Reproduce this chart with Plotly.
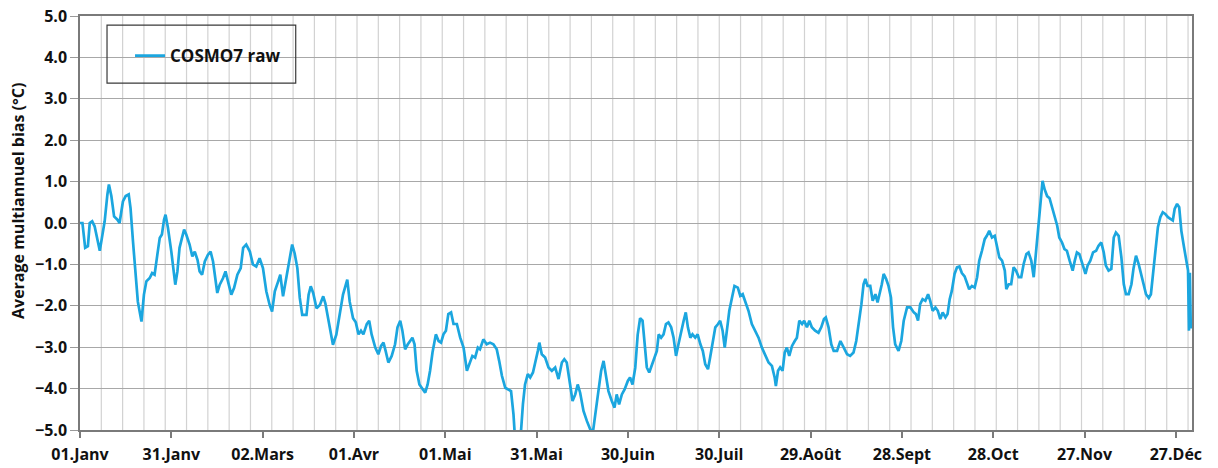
import plotly.graph_objects as go

# Day of year (0 = 01.Janv) and multiannual mean bias of the raw COSMO7 forecast (°C)
day = [
    0, 0.8, 1.7, 2.6, 3.2, 4.0, 4.8, 5.7, 6.5, 7.2, 8.1, 9.0, 9.5, 10.3, 11.2, 12.3, 13.0,
    14.1, 15.0, 16.0, 16.6, 17.4, 18.2, 19.0, 20.2, 21.0, 21.8, 22.9, 23.7, 24.5, 25.4,
    26.2, 26.9, 27.6, 28.1, 28.9, 30.0, 30.8, 31.3, 32.0, 32.7, 33.5, 34.2, 34.9, 36.0,
    36.9, 37.7, 38.6, 39.3, 40.1, 41.0, 42.0, 42.9, 43.7, 44.5, 45.1, 45.9, 47.0, 47.8,
    48.6, 49.7, 50.6, 51.7, 52.8, 53.6, 54.6, 55.8, 56.8, 57.9, 59.0, 60.1, 61.2, 62.3,
    63.1, 64.0, 65.1, 65.8, 66.7, 67.5, 68.6, 69.7, 70.5, 71.4, 72.2, 73.0, 74.4, 75.1,
    75.8, 76.6, 77.7, 78.8, 79.9, 80.6, 81.7, 83.1, 84.2, 85.3, 86.4, 87.8, 88.6, 89.7,
    90.6, 91.5, 92.3, 93.1, 94.2, 95.0, 95.8, 97.0, 98.0, 98.9, 99.7, 100.4, 101.3, 102.4,
    103.5, 104.3, 105.2, 105.9, 106.8, 107.7, 108.4, 109.2, 109.9, 110.6, 111.5, 112.5,
    113.4, 114.2, 115.0, 115.8, 116.9, 117.8, 118.6, 119.4, 120.2, 121.0, 121.9, 122.7,
    123.8, 124.9, 126.0, 127.1, 128.2, 128.9, 129.8, 130.7, 131.4, 132.5, 133.6, 134.7,
    135.8, 136.9, 137.7, 138.6, 139.7, 140.8, 141.6, 142.4, 142.9, 144.0, 144.9, 145.5,
    146.2, 147.1, 147.9, 148.8, 149.5, 150.4, 150.9, 151.7, 152.8, 153.9, 155.0, 156.1,
    157.2, 158.3, 159.1, 159.9, 161.0, 161.8, 162.7, 163.5, 164.3, 165.4, 166.5, 167.6,
    168.5, 169.2, 170.3, 171.2, 172.0, 172.7, 173.6, 174.7, 175.6, 176.3, 177.1, 178.0,
    178.9, 180.0, 180.7, 181.5, 182.4, 183.2, 184.0, 184.8, 185.5, 186.2, 187.0, 187.9,
    188.8, 189.5, 190.1, 190.9, 191.7, 192.5, 193.3, 194.2, 195.0, 195.8, 196.6, 197.5,
    198.3, 199.0, 199.7, 200.5, 201.2, 202.1, 202.9, 203.8, 204.6, 205.4, 206.3, 207.0,
    207.8, 208.7, 209.6, 210.3, 211.1, 211.8, 212.5, 213.3, 214.2, 215.0, 216.1, 216.9,
    217.7, 218.5, 219.6, 220.7, 221.8, 222.9, 224.0, 225.1, 226.2, 227.3, 228.2, 228.6,
    229.3, 230.0, 230.8, 231.5, 232.2, 233.0, 233.9, 234.8, 235.5, 236.3, 237.2, 237.9,
    238.8, 239.6, 240.4, 241.5, 242.6, 243.5, 244.4, 245.0, 245.9, 246.8, 247.6, 248.7,
    249.8, 250.9, 252.0, 253.0, 254.1, 255.0, 255.8, 256.7, 257.4, 258.0, 258.7, 259.6,
    260.4, 261.3, 262.0, 262.7, 263.4, 264.0, 264.8, 265.6, 266.4, 267.1, 267.8, 268.9,
    269.8, 270.6, 271.7, 272.8, 273.9, 274.6, 275.3, 276.0, 276.8, 277.7, 278.6, 279.3,
    280.1, 281.0, 281.8, 282.6, 283.4, 284.3, 285.0, 285.7, 286.4, 287.3, 288.1, 288.9,
    289.7, 290.6, 291.4, 292.1, 293.0, 293.9, 294.7, 295.4, 296.3, 297.2, 297.9, 298.7,
    299.6, 300.5, 301.2, 302.0, 302.9, 303.8, 304.3, 305.1, 305.9, 306.7, 307.5, 308.4,
    309.2, 310.0, 310.9, 311.6, 312.5, 313.3, 314.1, 315.0, 315.8, 316.2, 316.9, 317.7,
    318.5, 319.3, 320.2, 321.0, 321.7, 322.6, 323.4, 324.2, 325.1, 326.1, 326.8, 327.5,
    328.3, 329.2, 330.3, 331.0, 331.9, 332.8, 333.8, 334.6, 335.5, 336.3, 337.0, 337.9,
    338.8, 339.6, 340.3, 341.2, 342.1, 342.9, 343.6, 344.5, 345.4, 346.1, 346.9, 347.8,
    348.7, 349.4, 350.2, 351.1, 351.8, 352.4, 353.3, 354.1, 354.9, 355.7, 356.5, 357.4,
    358.2, 359.0, 359.6, 360.4, 361.1, 361.8, 362.6, 363.3, 364.0, 364.3, 364.6, 364.9,
]
bias = [
    0.0, 0.0, -0.6, -0.56, 0.0, 0.04, -0.08, -0.36, -0.67, -0.36, 0.04, 0.69, 0.93, 0.65, 0.16, 0.08, 0.0,
    0.52, 0.65, 0.69, 0.36, -0.44, -1.17, -1.9, -2.38, -1.73, -1.41, -1.33, -1.21, -1.25, -0.77,
    -0.36, -0.28, 0.08, 0.2, -0.12, -0.69, -1.17, -1.49, -1.17, -0.6, -0.36, -0.16, -0.28, -0.52,
    -0.81, -0.69, -0.89, -1.17, -1.25, -0.93, -0.77, -0.69, -0.93, -1.33, -1.69, -1.49, -1.33, -1.17,
    -1.41, -1.73, -1.57, -1.25, -1.09, -0.6, -0.52, -0.69, -1.0, -1.05, -0.85, -1.09, -1.65, -1.98,
    -2.14, -1.65, -1.41, -1.25, -1.77, -1.41, -0.93, -0.52, -0.73, -1.09, -1.81, -2.22, -2.22, -1.73,
    -1.53, -1.69, -2.06, -1.98, -1.77, -1.94, -2.38, -2.94, -2.7, -2.22, -1.73, -1.37, -1.9, -2.3,
    -2.4, -2.69, -2.6, -2.69, -2.44, -2.36, -2.69, -3.01, -3.17, -2.97, -2.89, -3.09, -3.37, -3.21,
    -2.93, -2.52, -2.36, -2.6, -3.05, -2.93, -2.85, -2.77, -2.93, -3.57, -3.9, -4.02,
    -4.1, -3.9, -3.57, -3.13, -2.69, -2.85, -2.89, -2.69, -2.6, -2.2, -2.16, -2.44,
    -2.44, -2.77, -3.01, -3.57, -3.33, -3.21, -3.25, -3.01, -3.05, -2.81, -2.93, -2.89,
    -2.93, -3.05, -3.33, -3.69, -3.98, -4.02, -4.06, -4.62, -5.2, -5.2, -5.0, -4.38,
    -3.9, -3.65, -3.73, -3.61, -3.41, -3.09, -2.89, -3.17, -3.25, -3.49, -3.57, -3.49,
    -3.77, -3.37, -3.29, -3.37, -3.9, -4.3, -4.14, -3.9, -4.1, -4.54, -4.78, -4.98,
    -5.05, -4.7, -4.06, -3.57, -3.33, -3.65, -4.06, -4.3, -4.46, -4.14, -4.38, -4.14,
    -4.02, -3.81, -3.73, -3.9, -3.5, -2.7, -2.3, -2.36, -2.93, -3.49, -3.61, -3.41,
    -3.25, -3.09, -2.69, -2.77, -2.69, -2.44, -2.4, -2.52, -2.77, -3.21, -2.93, -2.6,
    -2.36, -2.16, -2.52, -2.77, -2.69, -2.77, -2.69, -2.93, -3.09, -3.41, -3.53, -3.25,
    -2.93, -2.52, -2.44, -2.36, -2.6, -3.01, -2.6, -2.12, -1.8, -1.52, -1.56, -1.76,
    -1.72, -1.88, -2.12, -2.44, -2.6, -2.77, -3.01, -3.21, -3.37, -3.45, -3.73, -3.94,
    -3.57, -3.49, -3.57, -3.13, -3.01, -3.21, -2.97, -2.85, -2.77, -2.36, -2.44, -2.36,
    -2.52, -2.36, -2.52, -2.6, -2.65, -2.52, -2.32, -2.28, -2.52, -2.93, -3.09, -3.09,
    -2.85, -3.01, -3.17, -3.21, -3.13, -2.85, -2.44, -1.96, -1.48, -1.35, -1.52, -1.52,
    -1.88, -1.72, -1.92, -1.72, -1.48, -1.23, -1.35, -1.52, -1.8, -2.52, -2.93, -3.09,
    -2.85, -2.36, -2.04, -2.04, -2.16, -2.2, -2.36, -1.96, -1.84, -1.88, -1.72, -1.88,
    -2.12, -2.04, -2.12, -2.32, -2.16, -2.28, -2.2, -1.84, -1.64, -1.23, -1.07, -1.05,
    -1.21, -1.29, -1.44, -1.6, -1.52, -1.56, -1.31, -0.91, -0.67, -0.39, -0.31, -0.19,
    -0.35, -0.31, -0.55, -0.83, -0.91, -1.15, -1.6, -1.48, -1.48, -1.07, -1.15, -1.31,
    -1.31, -0.99, -0.75, -0.71, -0.91, -1.31, -0.67, 0.06, 0.78, 1.02, 0.81, 0.65,
    0.6, 0.38, 0.14, -0.06, -0.35, -0.47, -0.63, -0.67, -0.91, -1.15, -0.91, -0.71,
    -0.75, -0.95, -1.23, -1.03, -0.91, -0.71, -0.67, -0.55, -0.47, -0.71, -1.03, -1.15,
    -1.11, -0.35, -0.23, -0.31, -0.83, -1.48, -1.72, -1.72, -1.48, -1.09, -0.79, -1.0,
    -1.31, -1.48, -1.72, -1.81, -1.72, -1.31, -0.67, -0.1, 0.14, 0.26, 0.22, 0.14,
    0.1, 0.06, 0.34, 0.46, 0.38, -0.19, -0.55, -0.83, -1.15, -2.6, -1.2, -2.55,
]

# Month labels every 30 days
tick_days = [0, 30, 60, 90, 120, 150, 180, 210, 240, 270, 300, 330, 360]
tick_labels = ["01.Janv", "31.Janv", "02.Mars", "01.Avr", "01.Mai", "31.Mai", "30.Juin",
               "30.Juil", "29.Août", "28.Sept", "28.Oct", "27.Nov", "27.Déc"]
# Weekly vertical grid
week_days = list(range(7, 366, 7))

X_RANGE = [0, 365.3]
FONT = "Open Sans"
TXT = "#111111"
TICK_FONT = dict(family=FONT, size=16, color=TXT, weight="bold")

fig = go.Figure()
fig.add_trace(go.Scatter(
    x=day, y=bias, mode="lines", name="COSMO7 raw",
    line=dict(color="#1ba6df", width=2.7),
))

# weekly vertical grid lines, behind the data
week_grid = [
    dict(type="line", xref="x", yref="paper", x0=d, x1=d, y0=0, y1=1,
         layer="below", line=dict(color="#d2d2d2", width=1.2))
    for d in week_days
]
legend_box = dict(
    type="rect", xref="paper", yref="paper",
    x0=0.0243, x1=0.194, y0=0.838, y1=0.978,
    line=dict(color="#3a3a3a", width=1.2), fillcolor="rgba(0,0,0,0)",
)

fig.update_layout(
    width=1218, height=468,
    margin=dict(l=80, r=26, t=16, b=38),
    paper_bgcolor="white", plot_bgcolor="white",
    font=dict(family=FONT, size=16, color=TXT, weight="bold"),
    showlegend=True,
    legend=dict(
        x=0.045, y=0.903, xanchor="left", yanchor="middle",
        bgcolor="rgba(0,0,0,0)", borderwidth=0,
        font=dict(family=FONT, size=17, color=TXT, weight="bold"),
    ),
    shapes=week_grid + [legend_box],
    annotations=[dict(
        text="Average multiannuel bias (°C)", textangle=-90,
        xref="paper", yref="paper", x=-0.0558, y=0.553,
        xanchor="center", yanchor="middle", showarrow=False,
        font=dict(family=FONT, size=16, color=TXT, weight="bold"),
    )],
)

fig.update_xaxes(
    range=X_RANGE, automargin=False,
    tickmode="array", tickvals=tick_days, ticktext=tick_labels,
    ticks="outside", ticklen=6, tickcolor="#7a7a7a", tickwidth=1.5,
    ticklabelstandoff=3,
    showgrid=False, zeroline=False,
    showline=True, linecolor="#7a7a7a", linewidth=1.5, mirror=True,
    tickfont=TICK_FONT,
)
fig.update_yaxes(
    range=[-5, 5], dtick=1, tick0=0, tickformat=".1f", automargin=False,
    ticks="outside", ticklen=8, tickcolor="#9a9a9a", tickwidth=1.2,
    showgrid=True, gridcolor="#a8a8a8", gridwidth=1.2, zeroline=False,
    showline=True, linecolor="#7a7a7a", linewidth=1.5, mirror=True,
    tickfont=TICK_FONT,
)

fig.write_html("out.html")
